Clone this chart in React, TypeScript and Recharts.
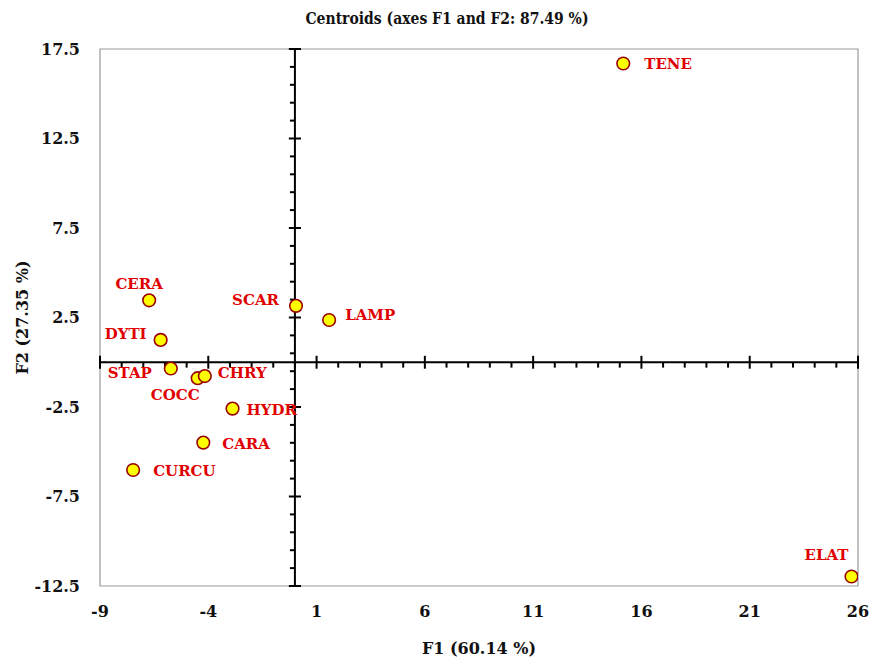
import React from "react";
import {
  ScatterChart,
  Scatter,
  XAxis,
  YAxis,
  ReferenceLine,
  ReferenceArea,
  Customized
} from "recharts";

// centroid labels and their coordinates (F1, F2)
const names = ["TENE", "ELAT", "SCAR", "LAMP", "CERA", "DYTI", "STAP", "COCC", "CHRY", "HYDR", "CARA", "CURCU"];
const f1 = [15.16, 25.7, 0.05, 1.58, -6.73, -6.2, -5.73, -4.49, -4.16, -2.88, -4.23, -7.47];
const f2 = [16.69, -11.97, 3.15, 2.36, 3.46, 1.25, -0.35, -0.89, -0.77, -2.59, -4.49, -6.02];

const xTicks = [-9, -4, 1, 6, 11, 16, 21, 26];
const yTicks = [-12.5, -7.5, -2.5, 2.5, 7.5, 12.5, 17.5];

const data = names.map((name, i) => ({ name, x: f1[i], y: f2[i] }));

// small ticks on the crossing axes: every unit on F1, every unit on F2 (offset by .5)
const xMinor: number[] = [];
for (let v = -9; v <= 26; v++) if (!xTicks.includes(v)) xMinor.push(v);
const yMinor: number[] = [];
for (let v = -12.5; v <= 17.5; v++) if (!yTicks.includes(v)) yMinor.push(v);

// label placement around each point (anchor, dx, dy in px)
const labelPos: Record<string, [string, number, number]> = {
  TENE: ["start", 21, 1],
  ELAT: ["end", -3, -22],
  SCAR: ["end", -17, -6],
  LAMP: ["start", 16, -5],
  CERA: ["middle", -10, -16],
  DYTI: ["end", -14, -6],
  STAP: ["end", -19, 4],
  COCC: ["end", 2, 17],
  CHRY: ["start", 13, -3],
  HYDR: ["start", 14, 1],
  CARA: ["start", 19, 1],
  CURCU: ["start", 20, 1]
};

const serif = "'DejaVu Serif', 'Liberation Serif', serif";
const tickStyle = { fill: "#111", fontSize: 16, fontWeight: "bold", fontFamily: serif };

const Point = (props: any) => {
  const { cx, cy, payload } = props;
  const [anchor, dx, dy] = labelPos[payload.name] || ["start", 12, 0];
  return (
    <g>
      <circle cx={cx} cy={cy} r={6.3} fill="#ffff00" stroke="#990000" strokeWidth={1.6} />
      <text
        x={cx + dx}
        y={cy + dy}
        textAnchor={anchor}
        dominantBaseline="central"
        fill="#e00000"
        fontSize={15}
        fontWeight="bold"
        fontFamily={serif}
      >
        {payload.name}
      </text>
    </g>
  );
};

const Title = () => (
  <text
    x={447}
    y={18}
    textAnchor="middle"
    dominantBaseline="central"
    fill="#111"
    fontSize={16}
    fontWeight="bold"
    fontFamily={serif}
    textLength={283}
    lengthAdjust="spacingAndGlyphs"
  >
    Centroids (axes F1 and F2: 87.49 %)
  </text>
);

const axisColor = "#000";

export default function App() {
  return (
    <div style={{ position: "absolute", left: 0, top: 0, background: "#fff" }}>
      <ScatterChart width={871} height={660} margin={{ top: 49, right: 13, left: 0, bottom: 0 }}>
        <XAxis
          type="number"
          dataKey="x"
          domain={[-9, 26]}
          ticks={xTicks}
          interval={0}
          allowDataOverflow
          axisLine={false}
          tickLine={false}
          tickSize={0}
          tickMargin={20}
          height={74}
          tick={tickStyle}
          label={{
            value: "F1 (60.14 %)",
            position: "insideBottom",
            offset: 6,
            style: { fill: "#111", fontSize: 16, fontWeight: "bold", fontFamily: serif }
          }}
        />
        <YAxis
          type="number"
          dataKey="y"
          domain={[-12.5, 17.5]}
          ticks={yTicks}
          interval={0}
          allowDataOverflow
          axisLine={false}
          tickLine={false}
          tickSize={0}
          tickMargin={20}
          width={100}
          tick={tickStyle}
          label={{
            value: "F2 (27.35 %)",
            angle: -90,
            position: "insideLeft",
            offset: 22,
            style: { textAnchor: "middle", fill: "#111", fontSize: 16, fontWeight: "bold", fontFamily: serif }
          }}
        />
        <ReferenceArea x1={-9} x2={26} y1={-12.5} y2={17.5} fill="none" fillOpacity={0} stroke="#9a9a9a" strokeWidth={1.2} />
        <ReferenceLine x={0} stroke={axisColor} strokeWidth={2} />
        <ReferenceLine y={0} stroke={axisColor} strokeWidth={2} />
        {xTicks.map(v => (
          <ReferenceLine key={"xM" + v} segment={[{ x: v, y: 0.36 }, { x: v, y: -0.36 }]} stroke={axisColor} strokeWidth={2} />
        ))}
        {xMinor.map(v => (
          <ReferenceLine key={"xm" + v} segment={[{ x: v, y: 0 }, { x: v, y: -0.3 }]} stroke={axisColor} strokeWidth={2} />
        ))}
        {yTicks.map(v => (
          <ReferenceLine key={"yM" + v} segment={[{ x: -0.28, y: v }, { x: 0.28, y: v }]} stroke={axisColor} strokeWidth={2} />
        ))}
        {yMinor.map(v => (
          <ReferenceLine key={"ym" + v} segment={[{ x: -0.23, y: v }, { x: 0, y: v }]} stroke={axisColor} strokeWidth={2} />
        ))}
        <Scatter data={data} isAnimationActive={false} shape={Point} />
        <Customized component={Title} />
      </ScatterChart>
    </div>
  );
}
